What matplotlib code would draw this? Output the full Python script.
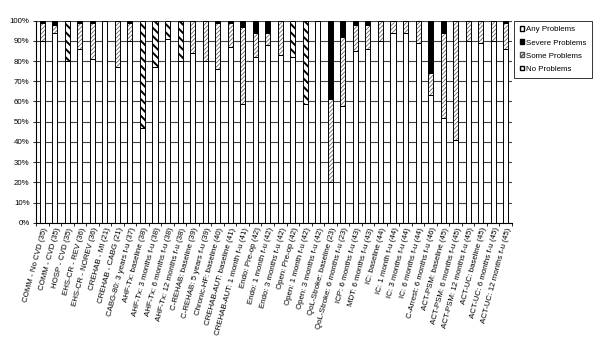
import matplotlib
matplotlib.use("Agg")
import matplotlib.pyplot as plt
import numpy as np
from matplotlib.patches import Patch
from matplotlib.ticker import PercentFormatter

plt.rcParams["font.family"] = ["Liberation Sans", "DejaVu Sans"]

LABELS = [
    "COMM - No CVD (35)", "COMM - CVD (35)", "HOSP - CVD (35)",
    "EHS-CR - REV (36)", "EHS-CR - NOREV (36)", "CREHAB - MI (21)",
    "CREHAB - CABG (21)", "CABG-80: 3 years f-u (37)", "AHF-Tx: baseline (38)",
    "AHF-Tx: 3 months f-u (38)", "AHF-Tx: 6 months f-u (38)",
    "AHF-Tx: 12 months f-u (38)", "C-REHAB: baseline (39)",
    "C-REHAB: 5 years f-u (39)", "Chronic-HF: baseline (40)",
    "CREHAB-AUT: baseline (41)", "CREHAB-AUT: 1 month f-u (41)",
    "Endo: Pre-op (42)", "Endo: 1 month f-u (42)", "Endo: 3 months f-u (42)",
    "Open: Pre-op (42)", "Open: 1 month f-u (42)", "Open: 3 months f-u (42)",
    "QoL-Stroke: baseline (23)", "QoL-Stroke: 6 months f-u (23)",
    "ICP: 6 months f-u (43)", "MDT: 6 months f-u (43)", "IC: baseline (44)",
    "IC: 1 month f-u (44)", "IC: 3 months f-u (44)", "IC: 6 months f-u (44)",
    "C-Arrest: 6 months f-u (46)", "ACT-PSM: baseline (45)",
    "ACT-PSM: 6 months f-u (45)", "ACT-PSM: 12 months f-u (45)",
    "ACT-UC: baseline (45)", "ACT-UC: 6 months f-u (45)",
    "ACT-UC: 12 months f-u (45)",
]

NO_PROBLEMS = [90, 94, 80, 86, 81, 100, 77, 90, 47, 77, 91, 80, 84, 80, 76, 87, 59, 82, 88,
               83, 82, 59, 100, 20, 58, 85, 86, 90, 94, 94, 89, 63, 52, 41, 90, 89, 90, 86]
SOME_PROBLEMS = [9, 4, 0, 13, 18, 0, 23, 9, 0, 0, 0, 0, 16, 20, 23, 12, 38, 12, 6,
                 17, 0, 0, 0, 41, 34, 13, 12, 10, 6, 6, 11, 11, 42, 59, 10, 11, 10, 13]
SEVERE_PROBLEMS = [1, 2, 0, 1, 1, 0, 0, 1, 0, 0, 0, 0, 0, 0, 1, 1, 3, 6, 6,
                   0, 0, 0, 0, 39, 8, 2, 2, 0, 0, 0, 0, 26, 6, 0, 0, 0, 0, 1]
ANY_PROBLEMS = [0, 0, 20, 0, 0, 0, 0, 0, 53, 23, 9, 20, 0, 0, 0, 0, 0, 0, 0,
                0, 18, 41, 0, 0, 0, 0, 0, 0, 0, 0, 0, 0, 0, 0, 0, 0, 0, 0]

FS = 5.7
WIDTH = 0.4
FINE = "////////"
BOLD = "\\\\\\\\"

fig = plt.figure(figsize=(6.0, 3.4), dpi=100)
ax = fig.add_axes([36 / 600, 1 - 222.7 / 340, 476 / 600, 202 / 340])

x = np.arange(len(LABELS))
no = np.array(NO_PROBLEMS, dtype=float)
some = np.array(SOME_PROBLEMS, dtype=float)
severe = np.array(SEVERE_PROBLEMS, dtype=float)
anyp = np.array(ANY_PROBLEMS, dtype=float)

# white base
ax.bar(x, no, WIDTH, color="white", edgecolor="black", linewidth=0.7, zorder=2)

# fine grey hatch for "some"
with plt.rc_context({"hatch.linewidth": 0.55}):
    ax.bar(x, some, WIDTH, bottom=no, color="white", edgecolor="#606060",
           hatch=FINE, linewidth=0, zorder=2)
ax.bar(x, some, WIDTH, bottom=no, fill=False, edgecolor="black", linewidth=0.7, zorder=3)

# black "severe"
ax.bar(x, severe, WIDTH, bottom=no + some, color="black", edgecolor="black",
       linewidth=0.7, zorder=2)

# bold hatch for "any"
with plt.rc_context({"hatch.linewidth": 1.4}):
    ax.bar(x, anyp, WIDTH, bottom=no + some + severe, color="white", edgecolor="black",
           hatch=BOLD, linewidth=0, zorder=2)
ax.bar(x, anyp, WIDTH, bottom=no + some + severe, fill=False, edgecolor="black",
       linewidth=0.7, zorder=3)

ax.set_xlim(-0.5, len(LABELS) - 0.5)
ax.set_ylim(0, 100)
ax.set_yticks(np.arange(0, 101, 10))
ax.yaxis.set_major_formatter(PercentFormatter(decimals=0))
ax.grid(axis="y", color="#444444", linewidth=0.8, zorder=0)
ax.set_axisbelow(True)

ax.set_xticks(x)
ax.set_xticklabels(LABELS, rotation=75, ha="right", rotation_mode="anchor", fontsize=FS)
ax.tick_params(axis="x", length=0, pad=3)
ax.set_xticks(np.arange(-0.5, len(LABELS)), minor=True)
ax.tick_params(axis="x", which="minor", length=2.5, width=0.6, direction="out")
ax.tick_params(axis="y", labelsize=FS, length=2.5, width=0.6, pad=2)

for side in ["top", "right"]:
    ax.spines[side].set_visible(False)
for side in ["left", "bottom"]:
    ax.spines[side].set_linewidth(0.8)

with plt.rc_context({"hatch.linewidth": 0.8}):
    handles = [
        Patch(facecolor="white", edgecolor="black", hatch="\\\\\\", label="Any Problems"),
        Patch(facecolor="black", edgecolor="black", label="Severe Problems"),
        Patch(facecolor="white", edgecolor="#555555", hatch="//////", label="Some Problems"),
        Patch(facecolor="white", edgecolor="black", label="No Problems"),
    ]
leg = fig.legend(handles=handles, loc="upper left",
                 bbox_to_anchor=(514 / 600, 1 - 20.7 / 340), borderaxespad=0,
                 fontsize=FS, frameon=True, fancybox=False, handlelength=0.55,
                 handleheight=0.55, handletextpad=0.3, labelspacing=0.75,
                 borderpad=0.7)
leg.get_frame().set_edgecolor("black")
leg.get_frame().set_linewidth(0.7)

fig.savefig("out.png", dpi=100)
